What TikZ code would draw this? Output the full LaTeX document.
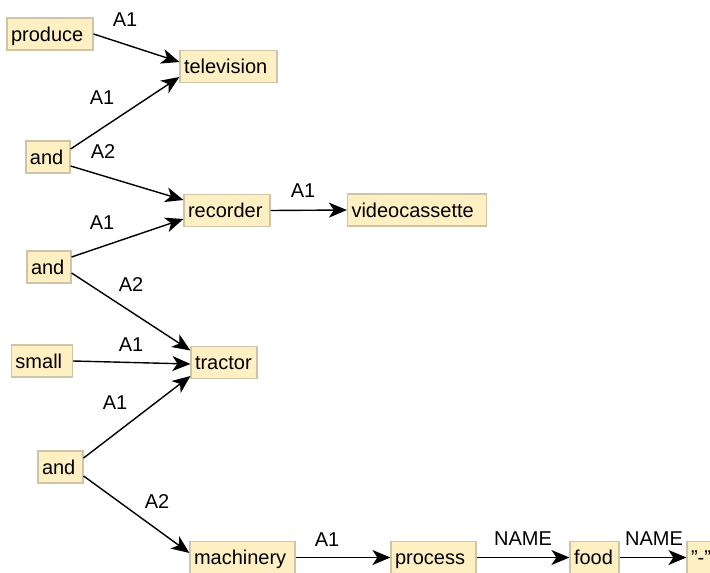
\documentclass[tikz,border=0pt]{standalone}
\usepackage{fontspec}
\setmainfont{Liberation Sans}
\usetikzlibrary{arrows.meta}
\definecolor{boxfill}{RGB}{255,240,196}
\definecolor{boxline}{RGB}{206,196,168}
\begin{document}
\begin{tikzpicture}[x=1pt,y=-1pt,
  word/.style={draw=boxline, fill=boxfill, line width=1.2pt, rectangle,
    minimum height=32pt, inner xsep=4pt, inner ysep=0pt,
    text height=16.5pt, text depth=2.5pt, align=left,
    font=\fontsize{20}{24}\selectfont},
  role/.style={inner sep=0pt, font=\fontsize{20}{24}\selectfont},
  rel/.style={line width=1.4pt, -{Stealth[length=18pt,width=15pt,inset=5pt]}}]
\useasboundingbox (0,0) rectangle (710,573);
\clip (0,0) rectangle (710,573);

% words
\node[word, text width=78pt]  (produce) at (50,34)      {produce};
\node[word, text width=89pt]  (tv)      at (228.5,66.5) {television};
\node[word, text width=36pt]  (andA)    at (48,157)     {and};
\node[word, text width=78pt]  (rec)     at (227,210.5)  {recorder};
\node[word, text width=131pt] (vcr)     at (417,210)    {videocassette};
\node[word, text width=36pt]  (andB)    at (49,267)     {and};
\node[word, text width=53pt]  (small)   at (42,361)     {small};
\node[word, text width=58pt]  (tractor) at (224,362.5)  {tractor};
\node[word, text width=37pt]  (andC)    at (60.5,467)   {and};
\node[word, text width=97pt]  (mach)    at (242.5,557.5){machinery};
\node[word, text width=77pt]  (proc)    at (433.5,557.5){process};
\node[word, text width=41pt]  (food)    at (594.5,557.5){food};
\node[word, text width=27pt]  (dash)    at (704.5,557.5){\symbol{34}-\symbol{34}};

% relations
\draw[rel] (produce.east) -- ([yshift=4.5pt]tv.west);
\draw[rel] ([yshift=8pt]andA.east) -- ([yshift=-10.5pt]tv.west);
\draw[rel] ([yshift=-9pt]andA.east) -- ([yshift=10.5pt]rec.west);
\draw[rel] (rec.east) -- (vcr.west);
\draw[rel] ([yshift=10pt]andB.east) -- ([yshift=-8.5pt]rec.west);
\draw[rel] ([yshift=-6pt]andB.east) -- ([yshift=12pt]tractor.west);
\draw[rel] (small.east) -- ([yshift=-1.5pt]tractor.west);
\draw[rel] ([yshift=9pt]andC.east) -- ([yshift=-13.5pt]tractor.west);
\draw[rel] ([yshift=-9pt]andC.east) -- ([yshift=4.5pt]mach.west);
\draw[rel] (mach.east) -- (proc.west);
\draw[rel] (proc.east) -- (food.west);
\draw[rel] (food.east) -- (dash.west);

% relation labels
\node[role] (l1)  at (125,20)  {A1};
\node[role] (l2)  at (102,98)  {A1};
\node[role] (l3)  at (103,152) {A2};
\node[role] (l4)  at (303,191) {A1};
\node[role] (l5)  at (102,223) {A1};
\node[role] (l6)  at (131,285) {A2};
\node[role] (l7)  at (131,345) {A1};
\node[role] (l8)  at (115,403) {A1};
\node[role] (l9)  at (157,502) {A2};
\node[role] (l10) at (327,540) {A1};
\node[role] (l11) at (523,539) {NAME};
\node[role] (l12) at (654,539) {NAME};
\end{tikzpicture}
\end{document}
